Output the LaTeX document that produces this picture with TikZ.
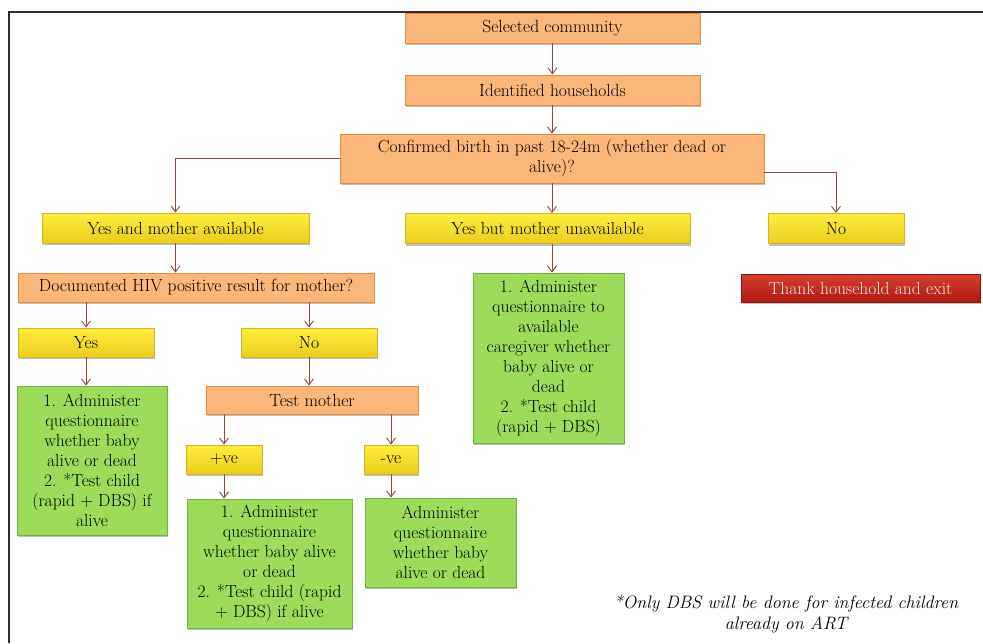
\documentclass[tikz,border=0pt]{standalone}
\usetikzlibrary{arrows.meta,shadows}
\definecolor{orfill}{RGB}{251,182,121}
\definecolor{ordraw}{RGB}{228,140,62}
\definecolor{yetop}{RGB}{255,236,60}
\definecolor{yebot}{RGB}{235,205,30}
\definecolor{yedraw}{RGB}{205,180,50}
\definecolor{grfill}{RGB}{156,220,90}
\definecolor{grdraw}{RGB}{118,178,62}
\definecolor{retop}{RGB}{214,62,46}
\definecolor{rebot}{RGB}{176,26,16}
\definecolor{redraw}{RGB}{140,20,14}
\definecolor{retext}{RGB}{250,232,230}
\definecolor{arrowcol}{RGB}{150,70,60}
\definecolor{framecol}{RGB}{45,45,45}
\tikzset{
  box/.style={rectangle, inner sep=1pt, align=center, line width=0.9pt,
    font=\fontsize{17.5}{20}\selectfont,
    drop shadow={shadow xshift=1.2pt, shadow yshift=-2pt, opacity=0.35, fill=black!70}},
  orangebox/.style={box, fill=orfill, draw=ordraw},
  yellowbox/.style={box, top color=yetop, bottom color=yebot, draw=yedraw},
  greenbox/.style={box, fill=grfill, draw=grdraw},
  redbox/.style={box, top color=retop, bottom color=rebot, draw=redraw, text=retext},
  conn/.style={draw=arrowcol, line width=0.9pt,
    -{Straight Barb[length=6pt,width=9pt,line width=0.9pt]}}
}
\begin{document}
\begin{tikzpicture}[x=1pt, y=-1pt]
\useasboundingbox (0,0) rectangle (983,643);
% outer frame (top and left edges)
\draw[framecol, line width=2pt] (9,643) -- (9,12) -- (983,12);

% top chain
\node[orangebox, minimum width=295, minimum height=30] (sel) at (552.5,28) {Selected community};
\node[orangebox, minimum width=295, minimum height=30] (idh) at (552.5,90) {Identified households};
\node[orangebox, minimum width=424, minimum height=49] (conf) at (552,158.5)
  {Confirmed birth in past 18-24m (whether dead or\\ alive)?};

% first level answers
\node[yellowbox, minimum width=267, minimum height=30] (yav) at (175.5,228) {Yes and mother available};
\node[yellowbox, minimum width=285, minimum height=30] (ybu) at (547.5,228.5) {Yes but mother unavailable};
\node[yellowbox, minimum width=136, minimum height=30] (no1) at (836,228.5) {No};

\node[orangebox, minimum width=356, minimum height=29] (doc) at (196,287.5) {Documented HIV positive result for mother?};
\node[redbox, minimum width=239, minimum height=28] (thank) at (860.5,288) {Thank household and exit};
\node[greenbox, minimum width=151, minimum height=170] (gmid) at (548.5,358)
  {1. Administer\\ questionnaire to\\ available\\ caregiver whether\\ baby alive or\\ dead\\ 2. *Test child\\ (rapid + DBS)};

% documented result branch
\node[yellowbox, minimum width=136, minimum height=29] (yes) at (86,342.5) {Yes};
\node[yellowbox, minimum width=136, minimum height=29] (no2) at (309,342.5) {No};
\node[greenbox, minimum width=150, minimum height=149] (gleft) at (92,460.5)
  {1. Administer\\ questionnaire\\ whether baby\\ alive or dead\\ 2. *Test child\\ (rapid + DBS) if\\ alive};
\node[orangebox, minimum width=212, minimum height=28] (test) at (312,400) {Test mother};
\node[yellowbox, minimum width=76, minimum height=29] (pos) at (224,459.5) {+ve};
\node[yellowbox, minimum width=54, minimum height=29] (neg) at (391,459.5) {-ve};
\node[greenbox, minimum width=165, minimum height=129] (gpos) at (269.5,563.5)
  {1. Administer\\ questionnaire\\ whether baby alive\\ or dead\\ 2. *Test child (rapid\\ + DBS) if alive};
\node[greenbox, minimum width=151, minimum height=89] (gneg) at (440.5,542.5)
  {Administer\\ questionnaire\\ whether baby\\ alive or dead};

% footnote
\node[align=center, font=\fontsize{18}{21}\selectfont\itshape] (note) at (786,614)
  {*Only DBS will be done for infected children\\ already on ART};

% connectors
\draw[conn] (sel) -- (idh);
\draw[conn] (idh.south -| conf.north) -- (conf.north);
\draw[conn] (conf.west) -| (yav.north);
\draw[conn] (conf.south) -- (conf.south |- ybu.north);
\draw[conn] ([yshift=-13.5pt]conf.east) -| (no1.north);
\draw[conn] (ybu.south -| conf.south) -- (conf.south |- gmid.north);
\draw[conn] (yav.south) -- (yav.south |- doc.north);
\draw[conn] (yes.north |- doc.south) -- (yes.north);
\draw[conn] (no2.north |- doc.south) -- (no2.north);
\draw[conn] (yes.south) -- (yes.south |- gleft.north);
\draw[conn] (no2.south) -- (no2.south |- test.north);
\draw[conn] (pos.north |- test.south) -- (pos.north);
\draw[conn] (neg.north |- test.south) -- (neg.north);
\draw[conn] (pos.south) -- (pos.south |- gpos.north);
\draw[conn] (neg.south) -- (neg.south |- gneg.north);
\end{tikzpicture}
\end{document}
